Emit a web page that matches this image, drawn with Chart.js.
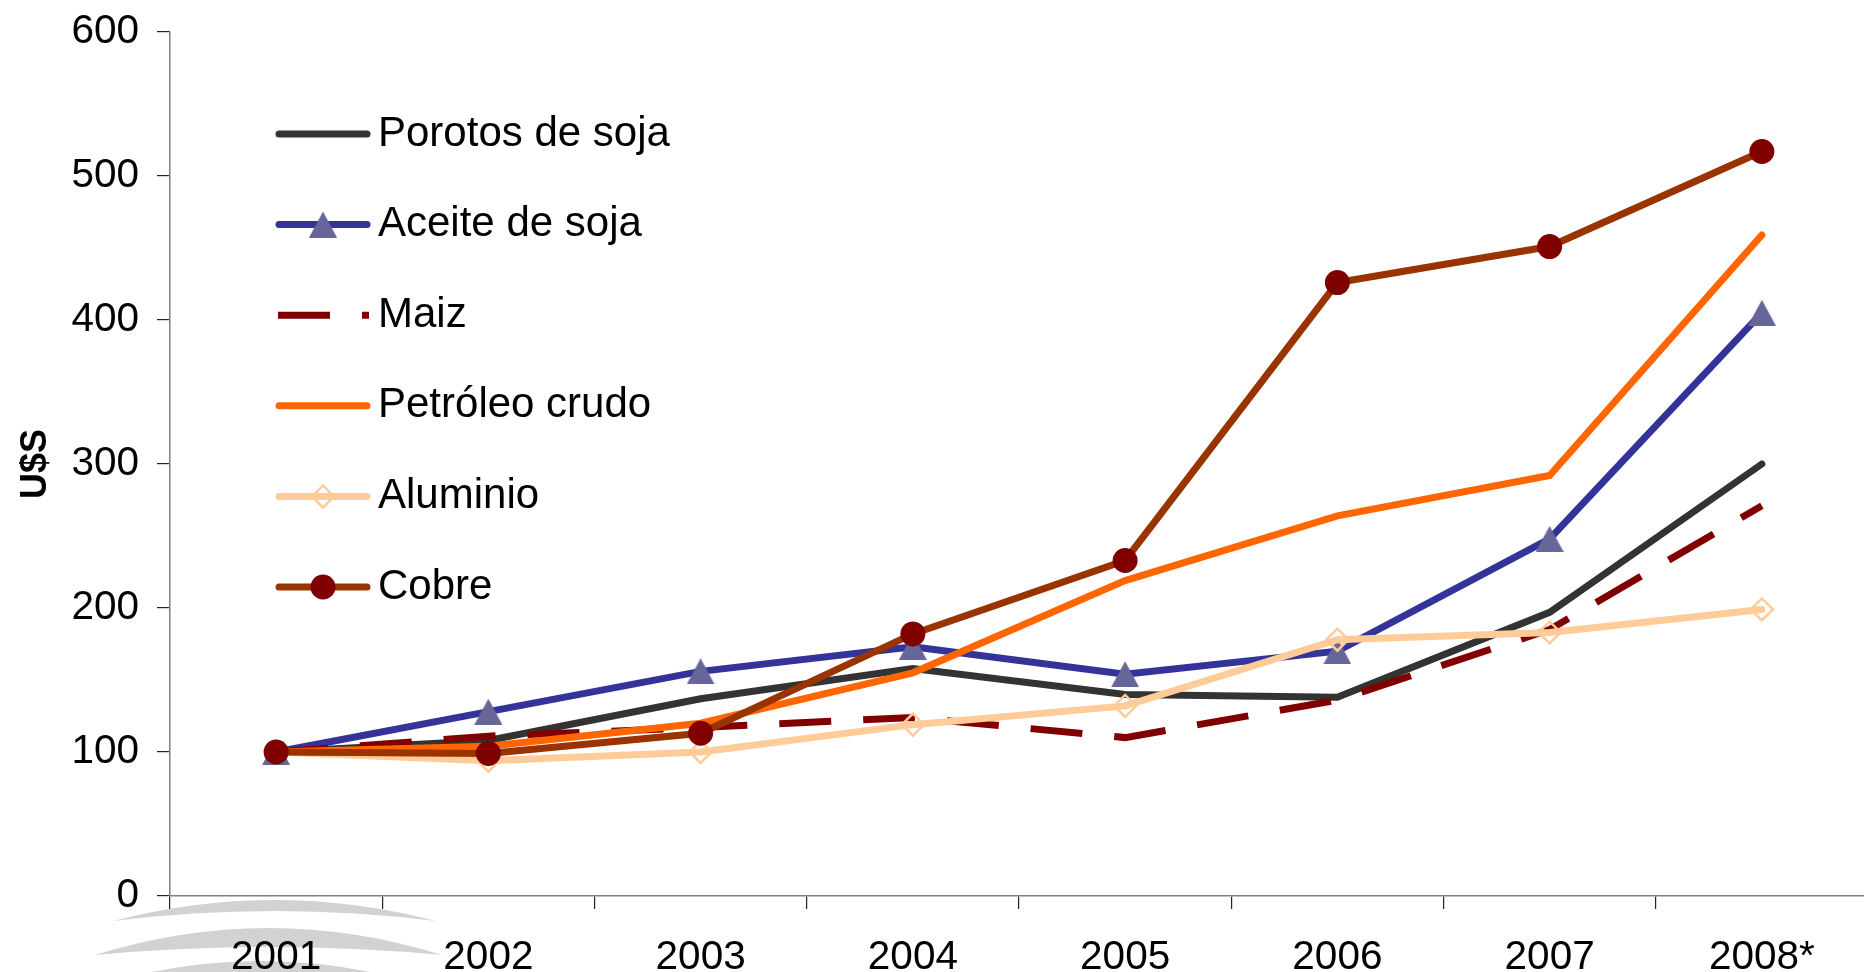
<!DOCTYPE html>
<html><head><meta charset="utf-8">
<script src="https://cdn.jsdelivr.net/npm/chart.js@4/dist/chart.umd.min.js"></script>
<style>
html,body{margin:0;padding:0;overflow:hidden;background:#fff;width:1864px;height:972px}
#wrap{position:absolute;left:0;top:0;width:1868px;height:972px}
</style>
</head><body><div id="wrap"><canvas id="c" width="1868" height="972"></canvas></div>
<script>
// ---- data ----
const years = ['2001','2002','2003','2004','2005','2006','2007','2008*'];
const porotosSoja = [100,108,137,158,140,138,197,300];
const aceiteSoja  = [100,128,156,173,154,170,248,405];
const maiz        = [100,111,117,124,110,136,185,271];
const petroleo    = [100,104,120,155,219,264,292,459];
const aluminio    = [100,94,100,119,132,178,183,199];
const cobre       = [100,99,113,182,233,426,451,517];
const yTicks = [0,100,200,300,400,500,600];
const seriesNames = ['Porotos de soja','Aceite de soja','Maiz','Petróleo crudo','Aluminio','Cobre'];
const yTitle = 'U$S';

const FONT = "'Liberation Sans', Arial, sans-serif";

function triCanvas(w,h,color){
  const c=document.createElement('canvas');c.width=w;c.height=h;
  const g=c.getContext('2d');g.fillStyle=color;g.beginPath();
  g.moveTo(w/2,0);g.lineTo(w,h);g.lineTo(0,h);g.closePath();g.fill();return c;
}
const tri = triCanvas(28,26,'#666699');

const datasets = [
  {label:seriesNames[0], data:porotosSoja, borderColor:'#333333', pointRadius:0, order:5, borderCapStyle:'round'},
  {label:seriesNames[1], data:aceiteSoja, borderColor:'#333399', pointStyle:tri, pointRadius:14, order:4, borderCapStyle:'round'},
  {label:seriesNames[2], data:maiz, borderColor:'#800000', pointRadius:0, order:3, borderDash:[52,32], borderCapStyle:'butt'},
  {label:seriesNames[3], data:petroleo, borderColor:'#FF6600', pointRadius:0, order:2, borderCapStyle:'round'},
  {label:seriesNames[4], data:aluminio, borderColor:'#FFCC99', pointStyle:'rectRot', pointRadius:11,
    pointBorderColor:'#FFCC99', pointBackgroundColor:'rgba(0,0,0,0)', pointBorderWidth:2.5, order:1, borderCapStyle:'round'},
  {label:seriesNames[5], data:cobre, borderColor:'#993300', pointStyle:'circle', pointRadius:12.5,
    pointBackgroundColor:'#800000', pointBorderWidth:0, order:0, borderCapStyle:'round'}
].map(d=>Object.assign({borderWidth:7, tension:0, fill:false, borderJoinStyle:'miter', backgroundColor:d.borderColor}, d));

const watermark = {
  id:'watermark',
  beforeDraw(chart){
    const ctx=chart.ctx; ctx.save(); ctx.fillStyle='#d2d2d2';
    const cres=(lx,ly,rx,ry,topPeak,botPeak)=>{
      const mx=(lx+rx)/2;
      ctx.beginPath(); ctx.moveTo(lx,ly);
      ctx.quadraticCurveTo(mx, 2*topPeak-(ly+ry)/2, rx, ry);
      ctx.quadraticCurveTo(mx, 2*botPeak-(ly+ry)/2, lx, ly);
      ctx.closePath(); ctx.fill();
    };
    cres(113,921,436,921,900,911);
    cres(95,955,442,955,928,947);
    cres(77,992,445,992,961,1010);
    ctx.restore();
  }
};

const legendPlugin = {
  id:'customLegend',
  afterDatasetsDraw(chart){
    const ctx=chart.ctx; ctx.save();
    chart.data.datasets.forEach((ds,i)=>{
      const y = 134 + i*90.6;
      ctx.beginPath();
      ctx.lineWidth = ds.borderWidth;
      ctx.strokeStyle = ds.borderColor;
      ctx.lineCap = ds.borderDash ? 'butt' : 'round';
      ctx.setLineDash(ds.borderDash || []);
      ctx.moveTo(ds.borderDash?278:279, y); ctx.lineTo(ds.borderDash?369:367, y); ctx.stroke();
      ctx.setLineDash([]);
      const mx = 323;
      if (ds.pointStyle === tri){ ctx.drawImage(tri, mx-tri.width/2, y-tri.height/2); }
      else if (ds.pointStyle === 'circle'){ ctx.beginPath(); ctx.fillStyle=ds.pointBackgroundColor; ctx.arc(mx,y,ds.pointRadius,0,Math.PI*2); ctx.fill(); }
      else if (ds.pointStyle === 'rectRot'){ const r=ds.pointRadius; ctx.beginPath(); ctx.moveTo(mx-r,y); ctx.lineTo(mx,y-r); ctx.lineTo(mx+r,y); ctx.lineTo(mx,y+r); ctx.closePath(); ctx.lineWidth=ds.pointBorderWidth; ctx.strokeStyle=ds.pointBorderColor; ctx.stroke(); }
      ctx.fillStyle='#000'; ctx.font = "42px " + FONT; ctx.textBaseline='middle'; ctx.textAlign='left';
      ctx.fillText(ds.label, 378, y);
    });
    ctx.restore();
  }
};

new Chart(document.getElementById('c'), {
  type:'line',
  data:{labels:years, datasets},
  plugins:[watermark, legendPlugin],
  options:{
    responsive:false, animation:false, devicePixelRatio:1, events:[],
    layout:{autoPadding:false, padding:{top:32,left:0,right:0,bottom:0}},
    plugins:{legend:{display:false}, tooltip:{enabled:false}},
    scales:{
      x:{
        offset:true,
        grid:{offset:true, drawOnChartArea:false, drawTicks:true, tickLength:13, color:'#222', lineWidth:1.2},
        border:{display:true, color:'#808080', width:1.5},
        ticks:{font:{family:FONT, size:40.5}, color:'#000', padding:25, maxRotation:0, autoSkip:false},
        afterFit:(s)=>{s.height=76; s.paddingLeft=0; s.paddingRight=0;}
      },
      y:{
        min:yTicks[0], max:yTicks[yTicks.length-1],
        afterBuildTicks:(s)=>{s.ticks=yTicks.map(v=>({value:v}));},
        grid:{drawOnChartArea:false, drawTicks:true, tickLength:13, color:'#222', lineWidth:1.2},
        border:{display:true, color:'#808080', width:1.5},
        ticks:{font:{family:FONT, size:40.5}, color:'#000', padding:18},
        title:{display:true, text:yTitle, color:'#000', font:{family:FONT, size:36, weight:'bold'}, padding:{top:14.5,bottom:0}},
        afterFit:(s)=>{s.width=170; s.paddingTop=0; s.paddingBottom=0;}
      }
    }
  }
});
</script>
</body></html>
